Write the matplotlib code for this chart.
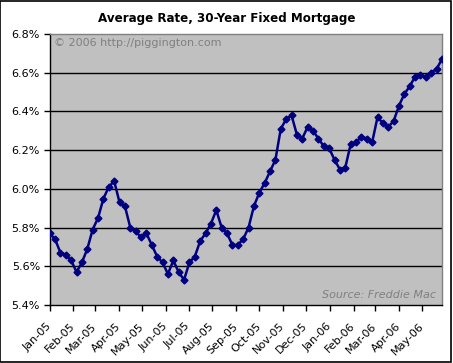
import matplotlib
matplotlib.use("Agg")
import matplotlib.pyplot as plt
import pandas as pd
from matplotlib.patches import Rectangle

# weekly Freddie Mac survey dates, Jan-05 .. Jun-06
dates = pd.date_range("2005-01-06", "2006-06-01", freq="7D")

rates_2005 = [5.77, 5.74, 5.67, 5.66,
              5.63, 5.57, 5.62, 5.69,
              5.79, 5.85, 5.95, 6.01, 6.04,
              5.93, 5.91, 5.80, 5.78,
              5.75, 5.77, 5.71, 5.65,
              5.62, 5.56, 5.63, 5.57, 5.53,
              5.62, 5.65, 5.73, 5.77,
              5.82, 5.89, 5.80, 5.77,
              5.71, 5.71, 5.74, 5.80, 5.91,
              5.98, 6.03, 6.09, 6.15,
              6.31, 6.36, 6.38, 6.28,
              6.26, 6.32, 6.30, 6.26, 6.22]
rates_2006 = [6.21, 6.15, 6.10, 6.11,
              6.23, 6.24, 6.27, 6.26,
              6.24, 6.37, 6.34, 6.32, 6.35,
              6.43, 6.49, 6.53, 6.58,
              6.59, 6.58, 6.60, 6.62,
              6.67]
rates = rates_2005 + rates_2006

# month ticks fall on the 6th (same day as the first data point)
month_ticks = pd.date_range("2005-01-01", "2006-05-01", freq="MS") + pd.Timedelta(days=5)
month_labels = [d.strftime("%b-%y") for d in month_ticks]
y_ticks = [5.4, 5.6, 5.8, 6.0, 6.2, 6.4, 6.6, 6.8]

fig = plt.figure(figsize=(4.53, 3.63), dpi=100)
ax = fig.add_axes([0.1097, 0.1598, 0.866, 0.7465])
ax.set_facecolor("#C0C0C0")

ax.plot(dates, rates, color="#000080", lw=1.8, marker="D", ms=3.5, zorder=3)

ax.set_xlim(dates[0], dates[-1])
ax.set_ylim(5.4, 6.8)
ax.set_yticks(y_ticks)
ax.set_yticklabels([f"{v:.1f}%" for v in y_ticks], fontsize=8)
ax.set_xticks(month_ticks)
ax.set_xticklabels(month_labels, fontsize=8, rotation=45, ha="right",
                   va="center", rotation_mode="anchor")
ax.tick_params(axis="both", direction="out", length=4, width=1, color="black", pad=3)
ax.tick_params(axis="x", pad=10)

for v in y_ticks[1:-1]:
    ax.axhline(v, color="black", lw=1, zorder=1)

ax.spines["left"].set_color("black")
ax.spines["bottom"].set_color("black")
ax.spines["top"].set_color("#808080")
ax.spines["right"].set_color("#808080")
for s in ax.spines.values():
    s.set_linewidth(1)

ax.text(0.01, 0.985, "\u00a9 2006 http://piggington.com", transform=ax.transAxes,
        fontsize=8, color="#808080", ha="left", va="top")
ax.text(0.985, 0.02, "Source: Freddie Mac", transform=ax.transAxes,
        fontsize=8, color="#808080", style="italic", ha="right", va="bottom")

fig.text(0.5, 0.948, "Average Rate, 30-Year Fixed Mortgage", fontsize=8.6,
         fontweight="bold", ha="center", va="center")

fig.patches.append(Rectangle((0.001, 0.002), 0.994, 0.994, transform=fig.transFigure,
                             fill=False, edgecolor="black", lw=1.2, joinstyle="miter"))

fig.savefig("out.png", dpi=100)
